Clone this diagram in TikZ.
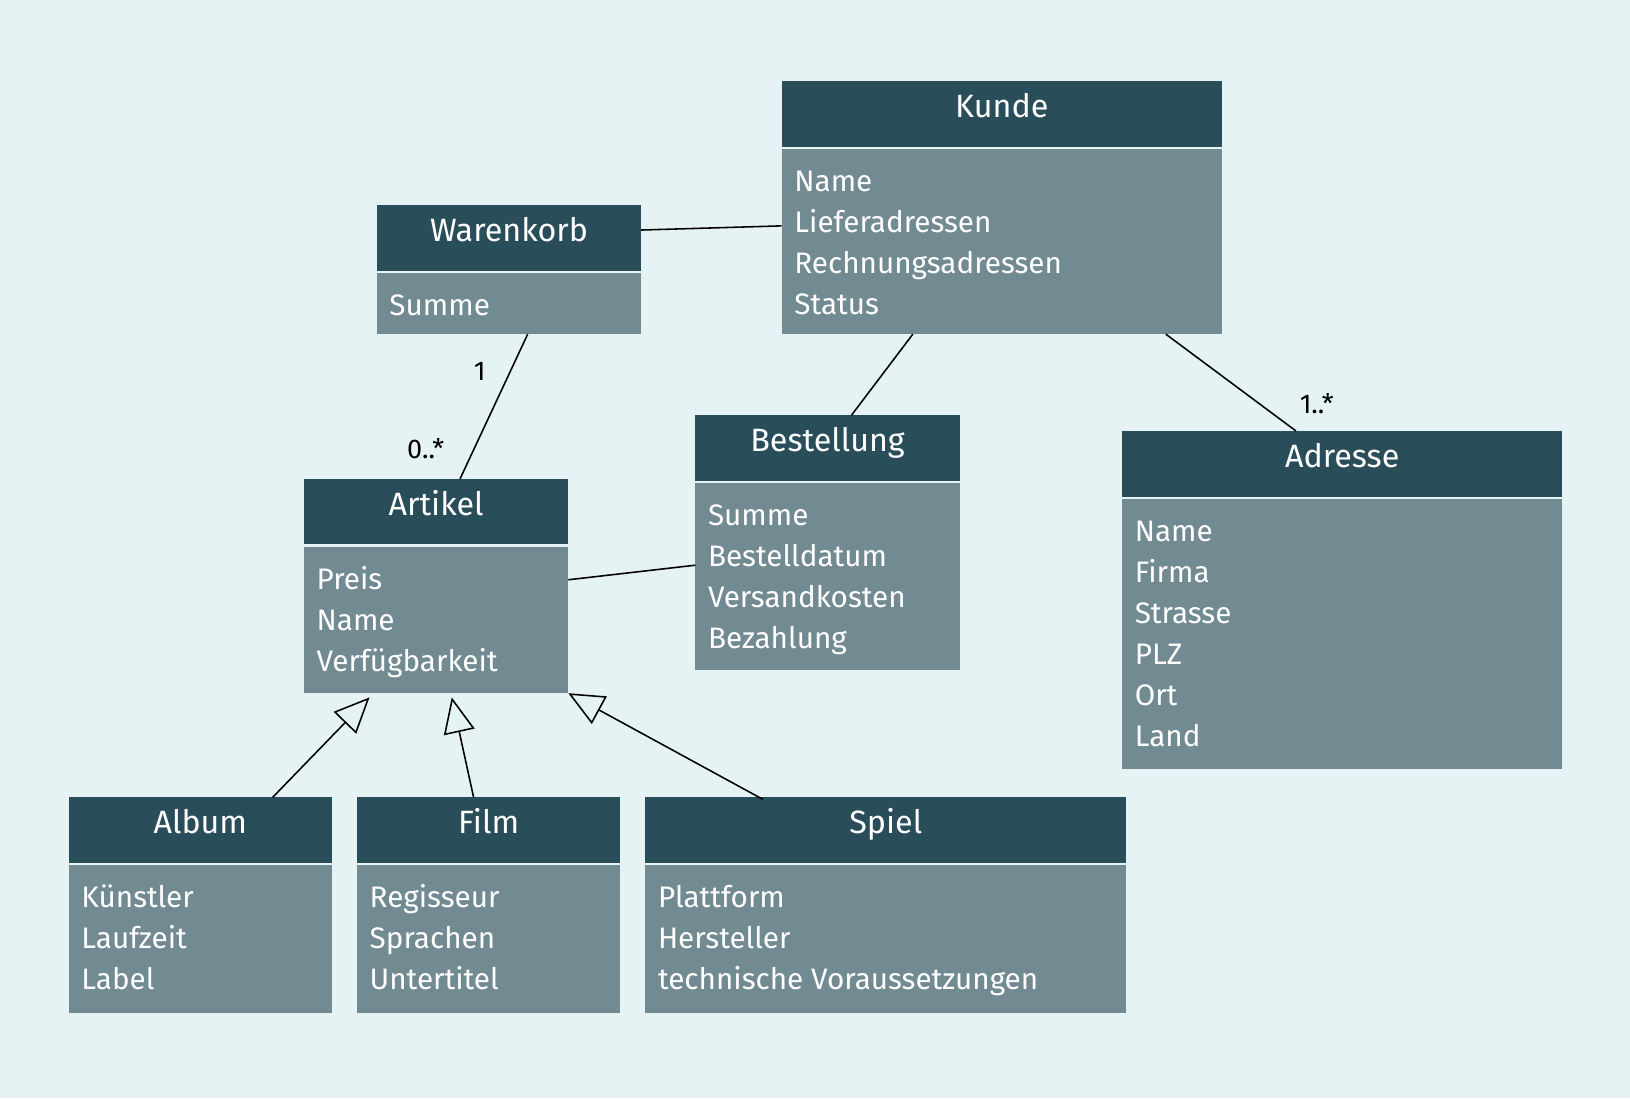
\documentclass[tikz,border=0pt]{standalone}
\usepackage{fontspec}
\setmainfont{Fira Sans}
\usetikzlibrary{arrows.meta}
\definecolor{bg}{HTML}{E6F3F4}
\definecolor{hdr}{HTML}{2A4D5A}
\definecolor{bdy}{HTML}{728A92}
\tikzset{
 htext/.style={text=white,font=\fontsize{31}{37}\selectfont,inner sep=0pt,text height=0.72em,text depth=0.05em},
 btext/.style={text=white,font=\fontsize{28.5}{37}\selectfont,inner sep=0pt},
 lbl/.style={text=black,font=\fontsize{26}{30}\selectfont,inner sep=0pt},
 conn/.style={line width=1.5pt,black},
 inh/.style={conn,-{Triangle[open,length=34pt,width=30pt,fill=bg]}}
}
\newcommand\umlcls[8]{%
 \fill[hdr] (#2,#4) rectangle (#3,#5);
 \node[htext] (#1) at ({(#2+#3)/2},{(#4+#5)/2}) {#7};
 \fill[bdy] (#2,{#5+2.5}) rectangle (#3,#6);
 \foreach \t [count=\i] in {#8} \node[btext,anchor=base west] (#1-\i) at ({#2+12},{#5+43+(\i-1)*39.5}) {\t};
}
\begin{document}
\begin{tikzpicture}[x=1pt,y=-1pt]
\fill[bg] (0,0) rectangle (1566,1055);
\useasboundingbox (0,0) rectangle (1566,1055);
\umlcls{kunde}{751}{1174}{78}{141}{321}{Kunde}{Name,Lieferadressen,Rechnungsadressen,Status}
\umlcls{waren}{362}{616}{197}{260}{321}{Warenkorb}{Summe}
\umlcls{best}{668}{922}{399}{462}{644}{Bestellung}{Summe,Bestelldatum,Versandkosten,Bezahlung}
\umlcls{adr}{1078}{1501}{414}{477}{739}{Adresse}{Name,Firma,Strasse,PLZ,Ort,Land}
\umlcls{art}{292}{546}{460}{523}{666}{Artikel}{Preis,Name,Verfügbarkeit}
\umlcls{album}{66}{319}{766}{829}{973}{Album}{Künstler,Laufzeit,Label}
\umlcls{film}{343}{596}{766}{829}{973}{Film}{Regisseur,Sprachen,Untertitel}
\umlcls{spiel}{620}{1082}{766}{829}{973}{Spiel}{Plattform,Hersteller,technische Voraussetzungen}
\coordinate (wR) at (616,221); \coordinate (kL) at (751,217);
\coordinate (kB1) at (877,321); \coordinate (bT) at (818,399);
\coordinate (kB2) at (1120,321); \coordinate (aT) at (1245,414);
\coordinate (wB) at (507,321); \coordinate (arT) at (442,460);
\coordinate (arR) at (546,557); \coordinate (bL) at (668,543);
\coordinate (alT) at (262,766); \coordinate (arB1) at (355,670);
\coordinate (fT) at (455,766); \coordinate (arB2) at (434,670);
\coordinate (sT) at (733,768); \coordinate (arB3) at (546,666);
\draw[conn] (wR) -- (kL);
\draw[conn] (kB1) -- (bT);
\draw[conn] (kB2) -- (aT);
\draw[conn] (wB) -- (arT);
\draw[conn] (arR) -- (bL);
\draw[inh] (alT) -- (arB1);
\draw[inh] (fT) -- (arB2);
\draw[inh] (sT) -- (arB3);
\node[lbl] (m1) at (461,357) {1};
\node[lbl] (m2) at (409,431) {0..*};
\node[lbl] (m3) at (1265,388) {1..*};
\end{tikzpicture}
\end{document}
